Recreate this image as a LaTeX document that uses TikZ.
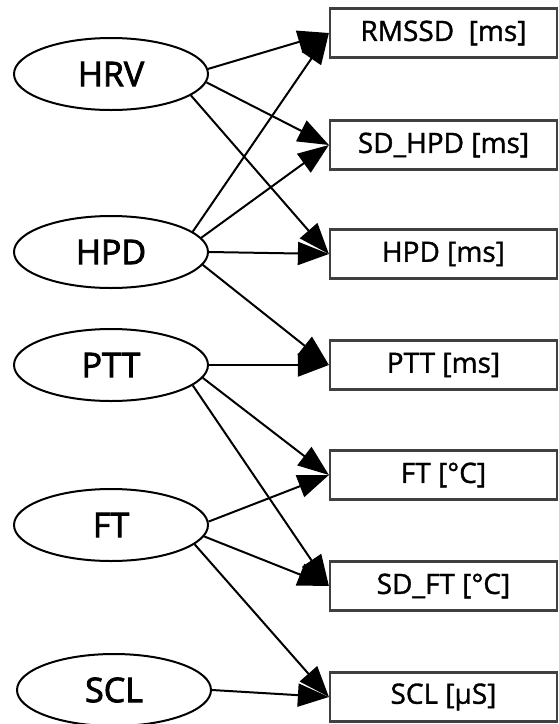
\documentclass[tikz,border=0pt]{standalone}
\usepackage{fontspec}
\setmainfont{Open Sans}
\newfontfamily\latfont{Open Sans}[FakeBold=2.4]
\newfontfamily\boxfont{Open Sans}[FakeBold=1.3]
\usetikzlibrary{arrows.meta,shapes.geometric}
\begin{document}
\begin{tikzpicture}[x=1pt,y=-1pt,
  latent/.style={ellipse,draw=black,line width=2pt,minimum width=194pt,minimum height=72pt,inner sep=0pt,font=\latfont\fontsize{34}{40}\selectfont},
  measure/.style={rectangle,draw=black!75,line width=2.2pt,minimum width=227pt,minimum height=49pt,inner sep=0pt,font=\boxfont\fontsize{28}{32}\selectfont},
  link/.style={line width=2pt,-{Triangle[length=31pt,width=23pt]}}]
\useasboundingbox (0,0) rectangle (558,724);
% latent variables
\node[latent] (hrv) at (111,74) {HRV};
\node[latent] (hpd) at (111,252) {HPD};
\node[latent] (ptt) at (111,365) {PTT};
\node[latent] (ft) at (111,525) {FT};
\node[latent] (scl) at (114,690) {SCL};
% indicators
\node[measure] (rmssd) at (443.5,33) {RMSSD\ \ [ms]};
\node[measure] (sdhpd) at (443.5,145) {SD\_HPD [ms]};
\node[measure] (hpdms) at (443.5,254) {HPD [ms]};
\node[measure] (pttms) at (443.5,365) {PTT [ms]};
\node[measure] (ftc) at (443.5,475) {FT [°C]};
\node[measure] (sdft) at (443.5,586) {SD\_FT [°C]};
\node[measure] (sclus) at (443.5,697) {SCL [µS]};
% connectors
\draw[link] (hrv.3) -- (rmssd.west);
\draw[link] (hrv.-5) -- (sdhpd.west);
\draw[link] (hrv.-15) -- (hpdms.west);
\draw[link] (hpd.14) -- (rmssd.west);
\draw[link] (hpd.9) -- (sdhpd.west);
\draw[link] (hpd.0) -- (hpdms.west);
\draw[link] (hpd.-8) -- (pttms.west);
\draw[link] (ptt.0) -- (pttms.west);
\draw[link] (ptt.-8) -- (ftc.west);
\draw[link] (ptt.-14) -- (sdft.west);
\draw[link] (ft.2) -- (ftc.west);
\draw[link] (ft.-7) -- (sdft.west);
\draw[link] (ft.-13) -- (sclus.west);
\draw[link] (scl.0) -- (sclus.west);
\end{tikzpicture}
\end{document}
